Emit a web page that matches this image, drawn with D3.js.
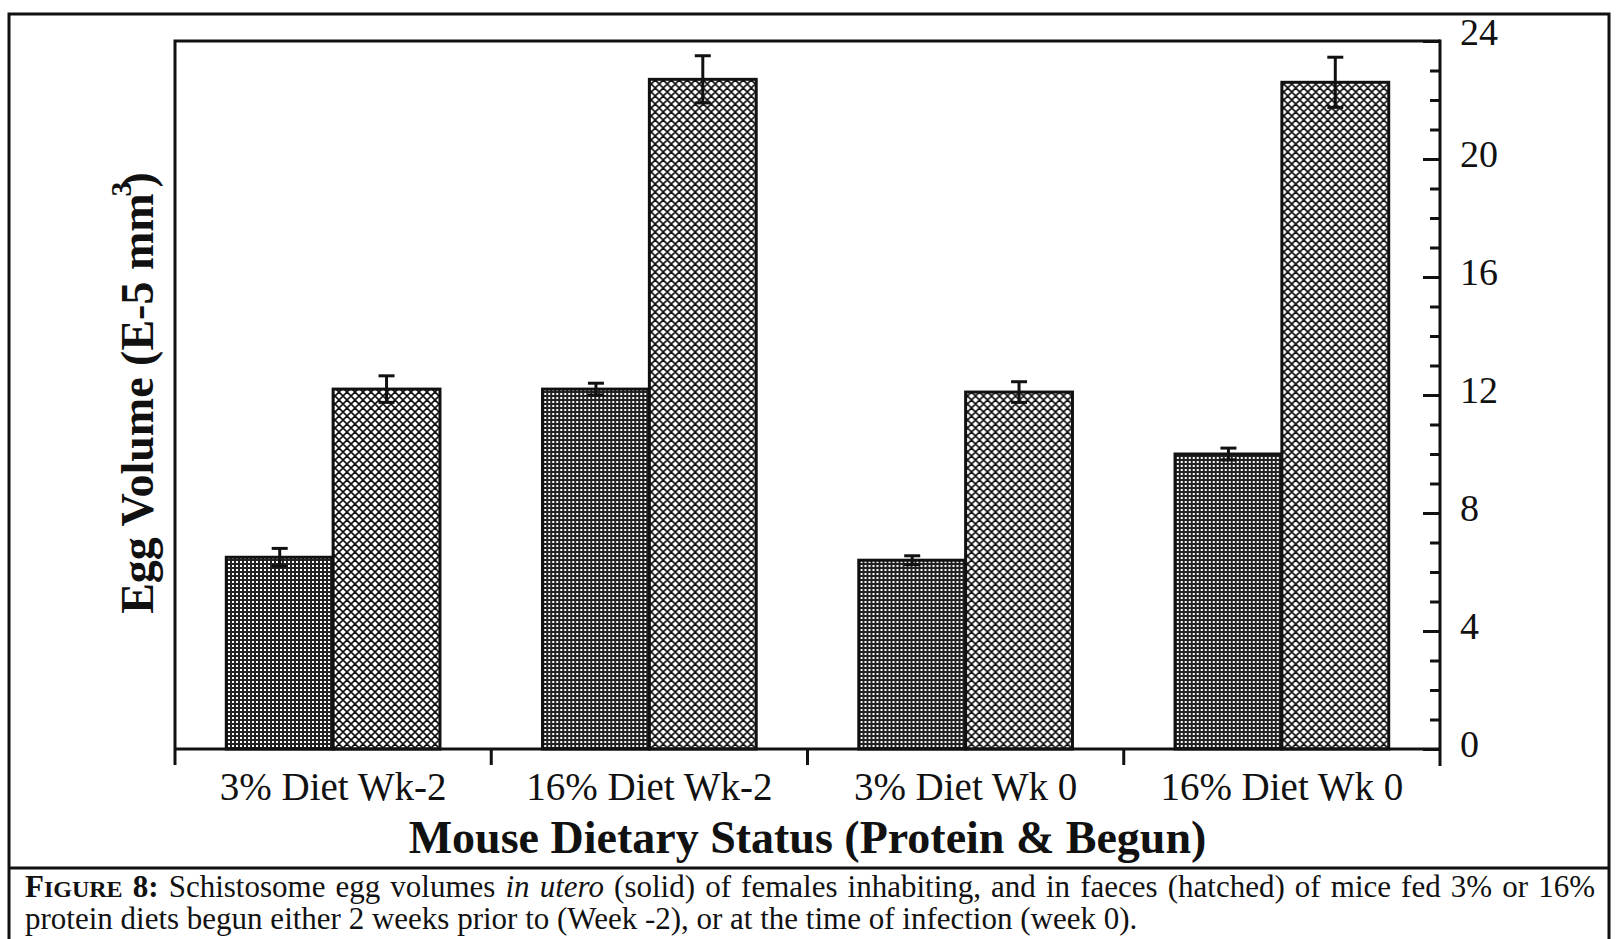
<!DOCTYPE html>
<html>
<head>
<meta charset="utf-8">
<script src="https://cdn.jsdelivr.net/npm/d3@7"></script>
<style>
  html, body { margin: 0; padding: 0; background: #fff; }
  svg { display: block; font-family: 'Liberation Serif', 'Times New Roman', serif; }
</style>
</head>
<body>
<div id="chart"></div>
<script>
const categories = ['3% Diet Wk-2', '16% Diet Wk-2', '3% Diet Wk 0', '16% Diet Wk 0']
const series = ['in utero', 'faeces']
const inUtero = [6.5, 12.2, 6.4, 10.0]
const inUteroErr = [0.3, 0.2, 0.15, 0.2]
const faeces = [12.2, 22.7, 12.1, 22.6]
const faecesErr = [0.45, 0.8, 0.35, 0.85]
const yMajorTicks = [0, 4, 8, 12, 16, 20, 24]

const width = 1616
const height = 939
const margin = { left: 175, right: 1440, top: 41, bottom: 749 }

const rows = categories.map((c, i) => ({
  cat: c,
  bars: [
    { key: series[0], value: inUtero[i], err: inUteroErr[i] },
    { key: series[1], value: faeces[i], err: faecesErr[i] }
  ]
}))

const svg = d3.select('#chart')
  .append('svg')
  .attr('width', width)
  .attr('height', height)

const defs = svg.append('defs')

// fine dark dot screen for the in utero bars
const dots = defs.append('pattern')
  .attr('id', 'dots')
  .attr('patternUnits', 'userSpaceOnUse')
  .attr('width', 4)
  .attr('height', 4)
dots.append('rect').attr('width', 4).attr('height', 4).attr('fill', '#222')
dots.append('rect').attr('x', 1).attr('y', 1).attr('width', 2).attr('height', 2).attr('fill', '#fff')

// cross hatch for the faeces bars
const hatch = defs.append('pattern')
  .attr('id', 'hatch')
  .attr('patternUnits', 'userSpaceOnUse')
  .attr('width', 8)
  .attr('height', 8)
hatch.append('rect').attr('width', 8).attr('height', 8).attr('fill', '#fff')
hatch.append('path')
  .attr('d', 'M-1,5 L5,-1 M3,9 L9,3 M3,-1 L9,5 M-1,3 L5,9')
  .attr('stroke', '#111')
  .attr('stroke-width', 1.6)
  .attr('fill', 'none')

const x0 = d3.scaleBand()
  .domain(categories)
  .range([margin.left, margin.right])

const x1 = d3.scaleBand()
  .domain(series)
  .range([0, x0.bandwidth()])
  .paddingOuter(0.48)

const y = d3.scaleLinear()
  .domain([0, 24])
  .range([margin.bottom, margin.top])

// outer figure box (runs off the bottom edge) and caption divider
svg.append('path')
  .attr('d', 'M9,939 V14 H1609 V939')
  .attr('fill', 'none')
  .attr('stroke', '#111')
  .attr('stroke-width', 3)

svg.append('line')
  .attr('x1', 9).attr('x2', 1609)
  .attr('y1', 868).attr('y2', 868)
  .attr('stroke', '#111')
  .attr('stroke-width', 3)

// plot frame: top and left
svg.append('path')
  .attr('d', `M${margin.left},${margin.bottom + 16} V${margin.top} H${margin.right}`)
  .attr('fill', 'none')
  .attr('stroke', '#111')
  .attr('stroke-width', 3)

// bars
const groups = svg.append('g')
  .selectAll('g')
  .data(rows)
  .join('g')
  .attr('transform', d => `translate(${x0(d.cat)},0)`)

groups.selectAll('rect')
  .data(d => d.bars)
  .join('rect')
  .attr('x', d => x1(d.key))
  .attr('y', d => y(d.value))
  .attr('width', x1.bandwidth())
  .attr('height', d => y(0) - y(d.value))
  .attr('fill', d => d.key === series[0] ? 'url(#dots)' : 'url(#hatch)')
  .attr('stroke', '#111')
  .attr('stroke-width', 3)

// error bars
const capW = 8
const err = groups.selectAll('g.err')
  .data(d => d.bars)
  .join('g')
  .attr('class', 'err')
  .attr('stroke', '#111')
  .attr('stroke-width', 3)
  .attr('transform', d => `translate(${x1(d.key) + x1.bandwidth() / 2},0)`)

err.append('line')
  .attr('y1', d => y(d.value + d.err))
  .attr('y2', d => y(d.value - d.err))
err.append('line')
  .attr('x1', -capW).attr('x2', capW)
  .attr('y1', d => y(d.value + d.err))
  .attr('y2', d => y(d.value + d.err))
err.append('line')
  .attr('x1', -capW).attr('x2', capW)
  .attr('y1', d => y(d.value - d.err))
  .attr('y2', d => y(d.value - d.err))

// x axis with ticks at group boundaries
const xAxis = svg.append('g')
  .attr('transform', `translate(0,${margin.bottom})`)
xAxis.append('line')
  .attr('x1', margin.left).attr('x2', margin.right)
  .attr('stroke', '#111').attr('stroke-width', 3)
xAxis.selectAll('line.tick')
  .data(categories.slice(1))
  .join('line')
  .attr('class', 'tick')
  .attr('x1', d => x0(d)).attr('x2', d => x0(d))
  .attr('y1', 0).attr('y2', 16)
  .attr('stroke', '#111').attr('stroke-width', 3)
xAxis.selectAll('text')
  .data(categories)
  .join('text')
  .attr('x', d => x0(d) + x0.bandwidth() / 2)
  .attr('y', 51)
  .attr('text-anchor', 'middle')
  .attr('font-size', 39)
  .attr('fill', '#111')
  .text(d => d)

// right y axis, ticks pointing inward
const yMinor = d3.range(0, 25).filter(v => v % 4 !== 0)

svg.append('g')
  .attr('transform', `translate(${margin.right},0)`)
  .call(d3.axisRight(y).tickValues(yMinor).tickSize(-10).tickFormat(''))
  .call(g => g.select('.domain').remove())
  .call(g => g.selectAll('line').attr('stroke', '#111').attr('stroke-width', 3))

svg.append('g')
  .attr('transform', `translate(${margin.right},0)`)
  .call(d3.axisRight(y).tickValues(yMajorTicks).tickSize(-17).tickPadding(20).tickSizeOuter(0))
  .call(g => g.select('.domain').remove())
  .call(g => g.selectAll('line').attr('stroke', '#111').attr('stroke-width', 3))
  .call(g => g.selectAll('text')
    .attr('font-size', 38)
    .attr('font-family', "'Liberation Serif', 'Times New Roman', serif")
    .attr('fill', '#111')
    .attr('dy', d => d === 24 ? '0.1em' : '0.2em'))

svg.append('line')
  .attr('x1', margin.right).attr('x2', margin.right)
  .attr('y1', margin.top - 1.5).attr('y2', margin.bottom + 17)
  .attr('stroke', '#111').attr('stroke-width', 3)

// axis titles
svg.append('text')
  .attr('x', (margin.left + margin.right) / 2)
  .attr('y', 853)
  .attr('text-anchor', 'middle')
  .attr('font-size', 46)
  .attr('font-weight', 'bold')
  .attr('fill', '#111')
  .text('Mouse Dietary Status (Protein & Begun)')

const yTitle = svg.append('text')
  .attr('transform', 'translate(153,393) rotate(-90)')
  .attr('text-anchor', 'middle')
  .attr('font-size', 46)
  .attr('font-weight', 'bold')
  .attr('fill', '#111')
yTitle.append('tspan').text('Egg Volume (E-5 mm')
yTitle.append('tspan').attr('dy', -22).attr('dx', -3).attr('font-size', 30).text('3')
yTitle.append('tspan').attr('dy', 22).attr('dx', -6).text(')')

// caption, first line justified to the box
const capLeft = 25
const capRight = 1595

const cap1 = svg.append('text')
  .attr('x', capLeft).attr('y', 897)
  .attr('font-size', 31)
  .attr('fill', '#111')
cap1.append('tspan').attr('font-weight', 'bold').text('F')
cap1.append('tspan').attr('font-weight', 'bold').attr('font-size', 24).text('IGURE')
cap1.append('tspan').attr('font-weight', 'bold').text(' 8:')
cap1.append('tspan').text(' Schistosome egg volumes ')
cap1.append('tspan').attr('font-style', 'italic').text('in utero')
cap1.append('tspan').text(' (solid) of females inhabiting, and in faeces (hatched) of mice fed 3% or 16%')

const natural = cap1.node().getComputedTextLength()
const gaps = (cap1.text().match(/ /g) || []).length
cap1.attr('word-spacing', Math.max(0, (capRight - capLeft - natural) / gaps))

svg.append('text')
  .attr('x', capLeft).attr('y', 929)
  .attr('font-size', 31)
  .attr('fill', '#111')
  .text('protein diets begun either 2 weeks prior to (Week -2), or at the time of infection (week 0).')
</script>
</body>
</html>
